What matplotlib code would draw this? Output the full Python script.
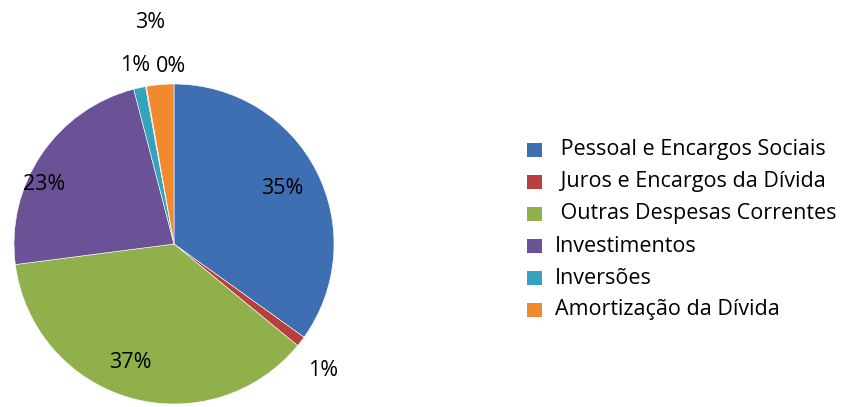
import matplotlib
matplotlib.use("Agg")
import matplotlib.pyplot as plt
from matplotlib.patches import Rectangle
import numpy as np

categories = [" Pessoal e Encargos Sociais", " Juros e Encargos da Dívida",
              " Outras Despesas Correntes", "Investimentos", "Inversões",
              "", "Amortização da Dívida"]
values = [34.9, 1.05, 37.0, 23.0, 1.2, 0.1, 2.75]
colors = ["#3f6fb3", "#b8403c", "#8fb04a", "#6b5196", "#35a3bd", "#9a9a9a", "#f08a2c"]

plt.rcParams['font.family'] = ['Open Sans', 'DejaVu Sans']

W, H = 854, 407
fig = plt.figure(figsize=(W / 100, H / 100), dpi=100)
cx, cy, r = 174, 244, 160
ax = fig.add_axes([(cx - r) / W, (H - cy - r) / H, 2 * r / W, 2 * r / H])
wedges, _ = ax.pie(values, colors=colors, startangle=90, counterclock=False,
                   radius=1.0, wedgeprops=dict(edgecolor="#ffffff", linewidth=0.4))
ax.set_xlim(-1, 1)
ax.set_ylim(-1, 1)
ax.set_aspect('equal')
ax.axis('off')

# data label placement: (radius factor, angle offset in degrees, clockwise)
label_radius = [0.76, 1.22, 0.79, 0.89, 1.14, 1.11, 1.39]
label_shift = [0.0, 2.7, 4.0, -9.5, 0.0, 9.0, -1.2]

total = sum(values)
start = 0.0  # clockwise angle from top
for i, v in enumerate(values):
    mid = start + 360.0 * v / total / 2 + label_shift[i]
    start += 360.0 * v / total
    rr = label_radius[i]
    x = rr * np.sin(np.radians(mid))
    y = rr * np.cos(np.radians(mid))
    ax.text(x, y, f"{v:.0f}%", ha='center', va='center', fontsize=15.5, color='black',
            clip_on=False)

# legend
leg_items = [(c, col) for c, col in zip(categories, colors) if c]
y0 = 150
dy = 32
for k, (c, col) in enumerate(leg_items):
    ypx = y0 + k * dy
    fig.patches.append(Rectangle(((534 - 7) / W, (H - ypx - 7) / H), 15 / W, 14 / H,
                                 transform=fig.transFigure, facecolor=col,
                                 edgecolor='none'))
    fig.text(555 / W, (H - ypx) / H, c, ha='left', va='center', fontsize=15.5, color='black')

fig.savefig("out.png", dpi=100)
